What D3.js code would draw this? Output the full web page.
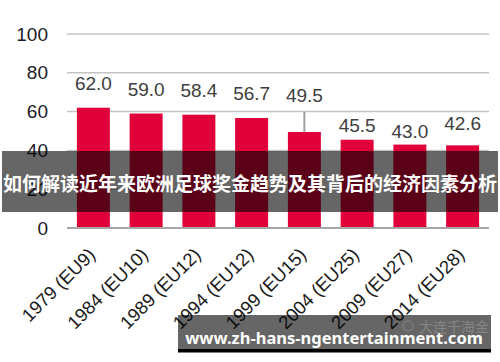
<!DOCTYPE html>
<html>
<head>
<meta charset="utf-8">
<script src="https://cdn.jsdelivr.net/npm/d3@7"></script>
<style>
  html, body { margin: 0; padding: 0; background: #fff; }
  svg { display: block; }
</style>
</head>
<body>
<svg id="chart" width="500" height="362"></svg>
<script>
// ---- data ----
const categories = ["1979 (EU9)", "1984 (EU10)", "1989 (EU12)", "1994 (EU12)", "1999 (EU15)", "2004 (EU25)", "2009 (EU27)", "2014 (EU28)"];
const values = [62.0, 59.0, 58.4, 56.7, 49.5, 45.5, 43.0, 42.6];
const yTicks = [0, 20, 40, 60, 80, 100];
const bannerText = "如何解读近年来欧洲足球奖金趋势及其背后的经济因素分析";
const watermarkText = "www.zh-hans-ngentertainment.com";
const sourceText = "大连千海金";

// ---- layout (not data) ----
const labelLift = [18, 18, 18, 18, 30, 8, 6.5, 15.5];   // px between bar top and label baseline
const leaderIndex = 4;

const svg = d3.select("#chart");
const W = 500, H = 362;
const m = { left: 67, right: 11, top: 34, bottom: 134 };

const x = d3.scaleBand().domain(categories).range([m.left, W - m.right]).paddingInner(0.375).paddingOuter(0.1875);
const y = d3.scaleLinear().domain([0, 100]).range([H - m.bottom, m.top]);

const font = "'Liberation Sans', Arial, sans-serif";

// gridlines
svg.append("g")
  .selectAll("line")
  .data(yTicks.filter(d => d > 0))
  .join("line")
  .attr("x1", m.left).attr("x2", W - m.right)
  .attr("y1", d => y(d)).attr("y2", d => y(d))
  .attr("stroke", "#c4c4c4").attr("stroke-width", 1.5);

// y axis labels
const yAxis = d3.axisLeft(y).tickValues(yTicks).tickSize(0).tickPadding(19);
const gy = svg.append("g").attr("transform", `translate(${m.left},0)`).call(yAxis);
gy.select(".domain").remove();
gy.selectAll("text").attr("font-family", font).attr("font-size", 19).attr("fill", "#1c1c28");

// bars
svg.append("g")
  .selectAll("rect")
  .data(values)
  .join("rect")
  .attr("x", (d, i) => x(categories[i]))
  .attr("y", d => y(d))
  .attr("width", x.bandwidth())
  .attr("height", d => y(0) - y(d))
  .attr("fill", "#e0003a");

// baseline
svg.append("line")
  .attr("x1", m.left).attr("x2", W - m.right)
  .attr("y1", y(0)).attr("y2", y(0))
  .attr("stroke", "#a6a6a6").attr("stroke-width", 2);

// leader line
svg.append("line")
  .attr("x1", x(categories[leaderIndex]) + x.bandwidth() / 2)
  .attr("x2", x(categories[leaderIndex]) + x.bandwidth() / 2)
  .attr("y1", y(values[leaderIndex]) - labelLift[leaderIndex] + 10)
  .attr("y2", y(values[leaderIndex]))
  .attr("stroke", "#a0a0a0").attr("stroke-width", 2);

// value labels
svg.append("g")
  .selectAll("text")
  .data(values)
  .join("text")
  .attr("x", (d, i) => x(categories[i]) + x.bandwidth() / 2)
  .attr("y", (d, i) => y(d) - labelLift[i])
  .attr("text-anchor", "middle")
  .attr("font-family", font).attr("font-size", 19)
  .attr("fill", "#404040")
  .text(d => d.toFixed(1));

// x labels (rotated)
svg.append("g")
  .selectAll("text")
  .data(categories)
  .join("text")
  .attr("transform", d => `translate(${x(d) + x.bandwidth() / 2 + 3},${y(0) + 28}) rotate(-45)`)
  .attr("text-anchor", "end")
  .attr("font-family", font).attr("font-size", 18.5)
  .attr("fill", "#1a1a1a")
  .text(d => d);

// banner overlay
svg.append("rect")
  .attr("x", 2).attr("y", 151).attr("width", 496).attr("height", 61)
  .attr("fill", "rgba(0,0,0,0.6)");
svg.append("text")
  .attr("x", 250).attr("y", 182)
  .attr("text-anchor", "middle").attr("dominant-baseline", "central")
  .attr("font-family", "'Noto Sans CJK SC', sans-serif")
  .attr("font-weight", "bold").attr("font-size", 19)
  .attr("fill", "#fff")
  .text(bannerText);

// watermark box
svg.append("rect")
  .attr("x", 178).attr("y", 315).attr("width", 313).attr("height", 35)
  .attr("fill", "rgba(0,0,0,0.6)");
svg.append("rect")
  .attr("x", 178).attr("y", 349).attr("width", 313).attr("height", 3.5)
  .attr("fill", "#000");
svg.append("text")
  .attr("x", 419).attr("y", 326)
  .attr("dominant-baseline", "central")
  .attr("font-family", "'Noto Sans CJK SC', sans-serif")
  .attr("font-size", 14)
  .attr("fill", "#9a9a9a").attr("opacity", 0.6)
  .text(sourceText);
svg.append("circle")
  .attr("cx", 408).attr("cy", 326).attr("r", 5)
  .attr("fill", "none").attr("stroke", "#9a9a9a").attr("opacity", 0.6);
svg.append("text")
  .attr("x", 334).attr("y", 337)
  .attr("text-anchor", "middle").attr("dominant-baseline", "central")
  .attr("font-family", "'Noto Sans', 'Open Sans', sans-serif")
  .attr("font-weight", "bold").attr("font-size", 16.5)
  .attr("fill", "#fff")
  .text(watermarkText);
</script>
</body>
</html>
